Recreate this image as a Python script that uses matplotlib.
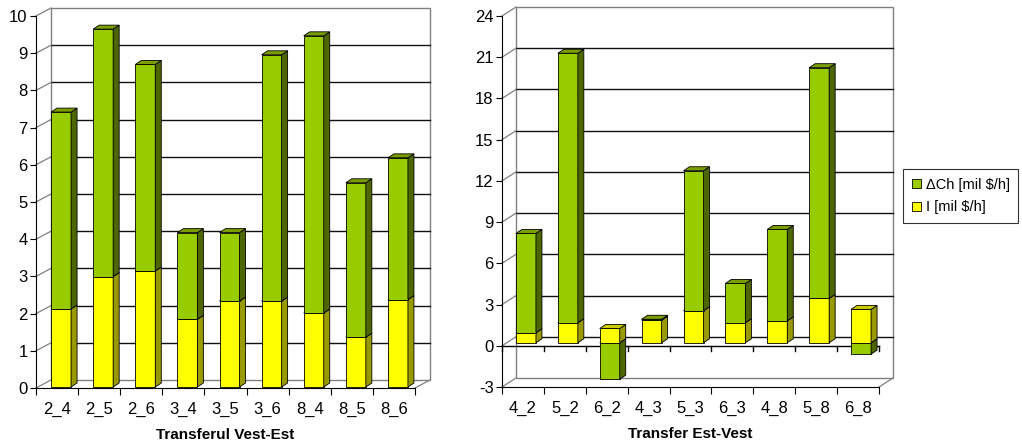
import numpy as np
import matplotlib.pyplot as plt
from matplotlib.patches import Polygon, Rectangle, Patch

plt.rcParams['font.family'] = ['Liberation Sans', 'DejaVu Sans']

# Transferul Vest-Est
cats_ve = ['2_4', '2_5', '2_6', '3_4', '3_5', '3_6', '8_4', '8_5', '8_6']
i_ve = [2.10, 2.97, 3.12, 1.82, 2.31, 2.31, 1.99, 1.34, 2.35]
dch_ve = [5.29, 6.65, 5.55, 2.33, 1.84, 6.62, 7.45, 4.15, 3.81]

# Transfer Est-Vest
cats_ev = ['4_2', '5_2', '6_2', '4_3', '5_3', '6_3', '4_8', '5_8', '6_8']
i_ev = [0.73, 1.46, 1.04, 1.65, 2.33, 1.46, 1.60, 3.23, 2.43]
dch_ev = [7.23, 19.61, -2.65, 0.06, 10.19, 2.86, 6.65, 16.79, -0.83]

green, green_side, green_top = '#99CC00', '#4D6600', '#7A9E00'
yellow, yellow_side, yellow_top = '#FFFF00', '#999900', '#CCCC00'
grey = '#808080'

W, H = 1022, 445
fig = plt.figure(figsize=(W / 100, H / 100), dpi=100)


def panel(box, cats, ival, dval, ymin, ymax, step, title, wall, off, bw, depth):
    x0, ytop, x1, ybot = box
    ax = fig.add_axes([x0 / W, 1 - ybot / H, (x1 - x0) / W, (ybot - ytop) / H])
    n = len(cats)
    ax.set_xlim(-0.5, n - 0.5)
    ax.set_ylim(ymin, ymax)
    ux = n / (x1 - x0)
    uy = (ymax - ymin) / (ybot - ytop)
    dx, dy = wall[0] * ux, wall[1] * uy
    ticks = np.arange(ymin, ymax + step / 2, step)

    # back wall + gridlines + side wall diagonals
    ax.add_patch(Rectangle((-0.5 + dx, ymin + dy), n, ymax - ymin, fc='white',
                           ec=grey, lw=1, clip_on=False, zorder=0))
    for t in ticks:
        if ymin < t < ymax:
            ax.plot([-0.5 + dx, n - 0.5 + dx], [t + dy, t + dy], color='#111111',
                    lw=1, clip_on=False, zorder=1)
        ax.plot([-0.5, -0.5 + dx], [t, t + dy], color=grey, lw=0.9,
                clip_on=False, zorder=1)
    ax.plot([n - 0.5, n - 0.5 + dx], [ymin, ymin + dy], color=grey, lw=0.9,
            clip_on=False, zorder=1)

    if ymin < 0:
        ax.plot([-0.5, n - 0.5], [0, 0], color='black', lw=1, zorder=2, clip_on=False)
        for b in np.arange(-0.5, n):
            ax.plot([b, b], [0, -5 * uy], color='black', lw=1, zorder=2, clip_on=False)

    # bars
    ox, oy = off[0] * ux, off[1] * uy
    bdx, bdy = depth[0] * ux, depth[1] * uy
    w = bw * ux
    for i in range(n):
        segs = []
        if dval[i] < 0:
            segs.append((0, dval[i], green, green_side, green_top))
        segs.append((0, ival[i], yellow, yellow_side, yellow_top))
        if dval[i] > 0:
            segs.append((ival[i], ival[i] + dval[i], green, green_side, green_top))
        for k, (a, b, fc, sc, tc) in enumerate(segs):
            z = 3 + k
            lo, hi = min(a, b) + oy, max(a, b) + oy
            xc = i + ox
            xl, xr = xc - w / 2, xc + w / 2
            ax.bar(xc, hi - lo, bottom=lo, width=w, color=fc, edgecolor='black',
                   lw=0.6, zorder=z)
            ax.add_patch(Polygon([(xr, lo), (xr + bdx, lo + bdy), (xr + bdx, hi + bdy), (xr, hi)],
                                 closed=True, fc=sc, ec='black', lw=0.6, zorder=z, clip_on=False))
            ax.add_patch(Polygon([(xl, hi), (xr, hi), (xr + bdx, hi + bdy), (xl + bdx, hi + bdy)],
                                 closed=True, fc=tc, ec='black', lw=0.6, zorder=z, clip_on=False))

    for s in ['top', 'right']:
        ax.spines[s].set_visible(False)
    for s in ['left', 'bottom']:
        ax.spines[s].set_color('black')
        ax.spines[s].set_zorder(2)
    ax.set_yticks(ticks)
    ax.set_yticklabels([f'{t:g}' for t in ticks], fontsize=12)
    ax.set_xticks(np.arange(-0.5, n))
    ax.set_xticklabels([''] * (n + 1))
    ax.set_xticks(np.arange(n), cats, minor=True, fontsize=12)
    ax.tick_params(axis='x', which='major', length=5, direction='out', color='black')
    ax.tick_params(axis='x', which='minor', length=0, pad=10)
    ax.tick_params(axis='y', length=4, pad=2, color='black')
    ax.set_xlabel(title, fontsize=11, fontweight='bold', labelpad=8)
    ax.set_facecolor('none')
    return ax


panel((36, 16, 415, 388), cats_ve, i_ve, dch_ve, 0, 10, 1, 'Transferul Vest-Est',
      wall=(15, 8), off=(4, 1), bw=20, depth=(6, 4))
panel((502, 16, 879, 387), cats_ev, i_ev, dch_ev, -3, 24, 3, 'Transfer Est-Vest',
      wall=(14, 9), off=(3, 3), bw=20, depth=(6, 4))

handles = [Patch(fc=green, ec='black', lw=0.6, label='ΔCh [mil $/h]'),
           Patch(fc=yellow, ec='black', lw=0.6, label='I [mil $/h]')]
leg = fig.legend(handles=handles, loc='center left', bbox_to_anchor=(903 / W, 1 - 196 / H),
                 fontsize=10.5, frameon=True, fancybox=False, edgecolor='black',
                 handlelength=0.6, handleheight=0.6, handletextpad=0.35,
                 borderpad=0.6, labelspacing=0.6, borderaxespad=0)
leg.get_frame().set_linewidth(0.8)

fig.savefig('out.png', dpi=100)
